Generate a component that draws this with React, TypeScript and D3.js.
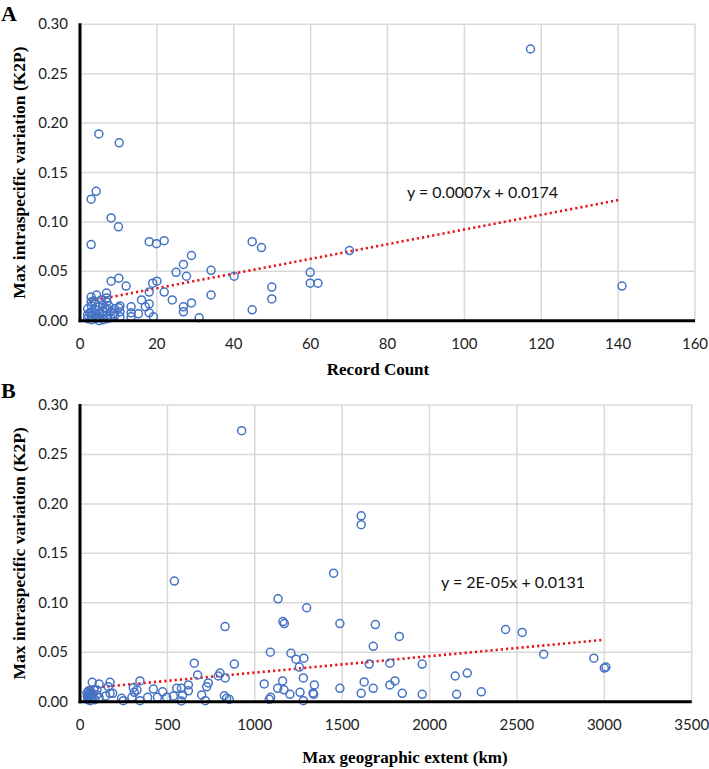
import React from "react";
import * as d3 from "d3";

// ---------- Data ----------
const recordCountPoints: [number, number][] = [
  [4.9, 0.189], [10.2, 0.18], [117.2, 0.275], [141, 0.035], [70.1, 0.071],
  [2.9, 0.123], [4.2, 0.131], [2.9, 0.077], [8.1, 0.104], [10.0, 0.095], [18.0, 0.08], [19.9, 0.078], [21.9, 0.081],
  [8.1, 0.04], [10.1, 0.043], [12.0, 0.035], [25, 0.049], [26.9, 0.057], [29, 0.066], [27.7, 0.045], [34.1, 0.051],
  [34.1, 0.026], [40.1, 0.045], [44.8, 0.08], [47.2, 0.074], [44.8, 0.011], [49.9, 0.034], [49.9, 0.022],
  [59.9, 0.049], [59.9, 0.038], [61.9, 0.038],
  [18.0, 0.029], [18.9, 0.038], [20.0, 0.04], [21.9, 0.029], [24.0, 0.021], [26.9, 0.014], [26.9, 0.009], [29, 0.018],
  [31, 0.003], [16, 0.021], [17, 0.014], [18, 0.017], [18, 0.008], [19.1, 0.004], [15.2, 0.007], [13.3, 0.014],
  [13.3, 0.008], [13.3, 0.004], [10.4, 0.015], [10.4, 0.009], [10.4, 0.004], [8.7, 0.007], [10.1, 0.013],
  [2.9, 0.024], [4.3, 0.026], [6.9, 0.028], [6.9, 0.023], [2.9, 0.019],
  [2, 0.012], [2, 0.006], [2, 0.002], [3, 0.015], [3, 0.009], [3, 0.004], [3, 0.001], [4, 0.018], [4, 0.011],
  [4, 0.006], [4, 0.002], [5, 0.014], [5, 0.008], [5, 0.003], [5, 0.0], [6, 0.016], [6, 0.01], [6, 0.005],
  [6, 0.001], [7, 0.019], [7, 0.012], [7, 0.006], [7, 0.002], [8, 0.009], [8, 0.003], [9, 0.005], [9, 0.012],
  [3.5, 0.02], [5.5, 0.021], [6.5, 0.013], [2.5, 0.008], [4.5, 0.004], [7.5, 0.015],
];

const extentPoints: [number, number][] = [
  [925, 0.274], [1609, 0.188], [1609, 0.179], [1451, 0.13], [540, 0.122], [1133, 0.104], [1297, 0.095],
  [1161, 0.081], [1169, 0.079], [1487, 0.079], [1690, 0.078], [830, 0.076], [1827, 0.066], [1678, 0.056],
  [2435, 0.073], [2530, 0.07], [1089, 0.05], [1207, 0.049], [2653, 0.048], [1236, 0.043], [1281, 0.044],
  [2940, 0.044], [1655, 0.038], [1773, 0.039], [1958, 0.038], [654, 0.039], [883, 0.038], [1255, 0.035],
  [3000, 0.034], [3009, 0.035], [673, 0.027], [801, 0.029], [791, 0.026], [831, 0.024], [1278, 0.024],
  [2147, 0.026], [2216, 0.029], [1802, 0.021], [1159, 0.021], [1626, 0.02], [1054, 0.018], [1773, 0.017],
  [1341, 0.017], [620, 0.017], [725, 0.015], [734, 0.019], [1487, 0.0135], [1678, 0.0135], [1131, 0.0135],
  [1167, 0.012], [620, 0.011], [580, 0.0135], [553, 0.0135], [2296, 0.01], [1259, 0.0095], [1333, 0.0088],
  [1337, 0.0075], [1201, 0.0075], [1609, 0.0085], [1844, 0.0085], [1958, 0.0075], [2155, 0.0075], [1278, 0.001],
  [1091, 0.0044], [1083, 0.0024], [587, 0.0068], [580, 0.0007], [534, 0.0058], [496, 0.0044], [473, 0.01],
  [420, 0.0128], [443, 0.0044], [387, 0.0044], [343, 0.021], [326, 0.0118], [311, 0.0095], [305, 0.0141],
  [297, 0.0044], [343, 0.001], [696, 0.0068], [717, 0.001], [826, 0.006], [839, 0.0034], [854, 0.0024],
  [172, 0.0196], [162, 0.0152], [187, 0.0085], [172, 0.0085], [147, 0.0058], [70, 0.0196], [109, 0.018],
  [97, 0.0118], [109, 0.0044], [238, 0.0034], [248, 0.001],
  [40, 0.009], [42, 0.005], [45, 0.002], [48, 0.007], [50, 0.011], [52, 0.004], [55, 0.008], [58, 0.001],
  [60, 0.006], [62, 0.01], [65, 0.003], [70, 0.008], [75, 0.005], [80, 0.012], [85, 0.002], [95, 0.007],
];

// trend lines
const trendA = { slope: 0.000743, intercept: 0.018, x0: 2.6, x1: 140 };
const trendB = { slope: 0.0000166, intercept: 0.0128, x0: 38, x1: 2994 };

const equationA = "y = 0.0007x + 0.0174";
const equationB = "y = 2E-05x + 0.0131";

const yTicks = [0, 0.05, 0.1, 0.15, 0.2, 0.25, 0.3];
const xTicksA = [0, 20, 40, 60, 80, 100, 120, 140, 160];
const xTicksB = [0, 500, 1000, 1500, 2000, 2500, 3000, 3500];

const yTitle = "Max intraspecific variation (K2P)";
const xTitleA = "Record Count";
const xTitleB = "Max geographic extent (km)";

// ---------- Panel ----------
type PanelProps = {
  points: [number, number][];
  xTicks: number[];
  xMax: number;
  trend: { slope: number; intercept: number; x0: number; x1: number };
  equation: string;
  eqX: number;
  eqY: number;
  top: number;
  bottom: number;
  right: number;
  letter: string;
  letterY: number;
  xTitle: string;
  xTitleX: number;
  xTitleY: number;
};

const LEFT = 80;
const BLUE = "#4472c4";
const GRID = "#d9d9d9";
const TICK_FONT = "Lato, 'Open Sans', sans-serif";
const SERIF = "'Liberation Serif', 'DejaVu Serif', serif";

function Panel(p: PanelProps) {
  const x = d3.scaleLinear().domain([0, p.xMax]).range([LEFT, p.right]);
  const y = d3.scaleLinear().domain([0, 0.3]).range([p.bottom, p.top]);
  const fmt = d3.format(".2f");
  const line = d3
    .line<number>()
    .x((d) => x(d))
    .y((d) => y(p.trend.slope * d + p.trend.intercept));
  const midY = (p.top + p.bottom) / 2;
  return (
    <g>
      {yTicks.map((t) => (
        <line key={"gy" + t} x1={LEFT} x2={p.right} y1={y(t)} y2={y(t)} stroke={GRID} strokeWidth={1.5} />
      ))}
      {p.xTicks.map((t) => (
        <line key={"gx" + t} x1={x(t)} x2={x(t)} y1={p.top} y2={p.bottom} stroke={GRID} strokeWidth={1.5} />
      ))}
      <path
        d={line([p.trend.x0, p.trend.x1]) || ""}
        fill="none"
        stroke="#e8141c"
        strokeWidth={2.6}
        strokeDasharray="2.2 3"
      />
      {p.points.map((d, i) => (
        <circle key={i} cx={x(d[0])} cy={y(d[1])} r={4} fill="none" stroke={BLUE} strokeWidth={1.5} />
      ))}
      <line x1={LEFT} x2={LEFT} y1={p.top - 1} y2={p.bottom + 1.5} stroke="#000" strokeWidth={3} />
      <line x1={LEFT - 1.5} x2={p.right} y1={p.bottom} y2={p.bottom} stroke="#000" strokeWidth={3} />
      {yTicks.map((t) => (
        <text key={"ty" + t} x={68} y={y(t) + 5} textAnchor="end" fontFamily={TICK_FONT} fontSize={15} fill="#222">
          {fmt(t)}
        </text>
      ))}
      {p.xTicks.map((t) => (
        <text key={"tx" + t} x={x(t)} y={p.bottom + 28} textAnchor="middle" fontFamily={TICK_FONT} fontSize={15} fill="#222">
          {t}
        </text>
      ))}
      <text x={p.eqX} y={p.eqY} fontFamily={TICK_FONT} fontSize={16} fill="#111">
        {p.equation}
      </text>
      <text
        transform={`translate(25,${midY}) rotate(-90)`}
        textAnchor="middle"
        fontFamily={SERIF}
        fontWeight="bold"
        fontSize={17.5}
        fill="#000"
      >
        {yTitle}
      </text>
      <text x={p.xTitleX} y={p.xTitleY} textAnchor="middle" fontFamily={SERIF} fontWeight="bold" fontSize={17} fill="#000">
        {p.xTitle}
      </text>
      <text x={1} y={p.letterY} fontFamily={SERIF} fontWeight="bold" fontSize={22} fill="#000">
        {p.letter}
      </text>
    </g>
  );
}

export default function App() {
  return (
    <svg width={709} height={769} style={{ position: "absolute", left: 0, top: 0, background: "#fff" }}>
      <rect width={709} height={769} fill="#fff" />
      <Panel
        points={recordCountPoints}
        xTicks={xTicksA}
        xMax={160}
        trend={trendA}
        equation={equationA}
        eqX={407}
        eqY={198}
        top={24.3}
        bottom={320.7}
        right={695}
        letter="A"
        letterY={21}
        xTitle={xTitleA}
        xTitleX={378}
        xTitleY={375}
      />
      <Panel
        points={extentPoints}
        xTicks={xTicksB}
        xMax={3500}
        trend={trendB}
        equation={equationB}
        eqX={441}
        eqY={588}
        top={405}
        bottom={701.7}
        right={691.7}
        letter="B"
        letterY={398}
        xTitle={xTitleB}
        xTitleX={405}
        xTitleY={763}
      />
    </svg>
  );
}
